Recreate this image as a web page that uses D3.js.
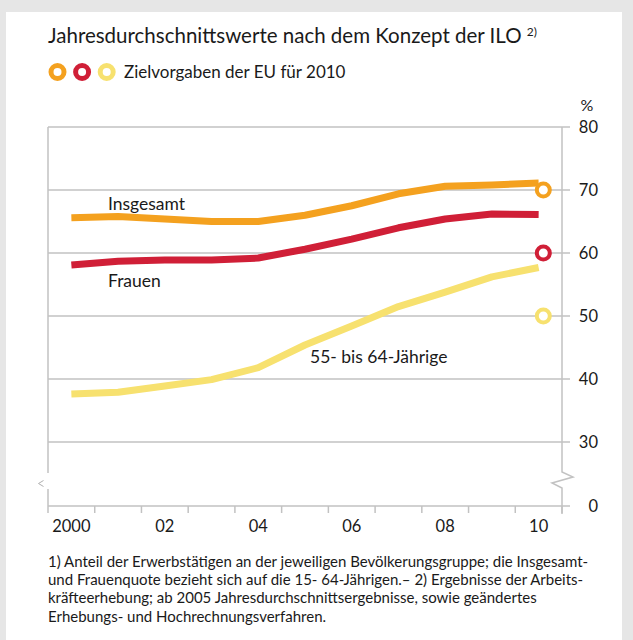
<!DOCTYPE html>
<html>
<head>
<meta charset="utf-8">
<script src="https://cdn.jsdelivr.net/npm/d3@7"></script>
<style>
  body { margin: 0; background: #e6e6e6; }
  svg { display: block; }
  text { font-family: Lato, "Open Sans", sans-serif; fill: #1a1a1a; }
</style>
</head>
<body>
<svg id="chart" width="633" height="640"></svg>
<script>
// Erwerbstätigenquoten 2000-2010 (%)
var years = [2000, 2001, 2002, 2003, 2004, 2005, 2006, 2007, 2008, 2009, 2010];
var insgesamt = [65.6, 65.8, 65.4, 65.0, 65.0, 66.0, 67.5, 69.4, 70.6, 70.8, 71.1];
var frauen = [58.1, 58.7, 58.9, 58.9, 59.2, 60.6, 62.2, 64.0, 65.4, 66.2, 66.1];
var aeltere = [37.6, 37.9, 38.9, 39.9, 41.8, 45.4, 48.4, 51.5, 53.8, 56.2, 57.7];
var seriesNames = ["Insgesamt", "Frauen", "55- bis 64-Jährige"];
var seriesColors = ["#f4a11f", "#d01f37", "#f7e16f"];
var zielvorgaben = [70, 60, 50];   // EU targets for 2010
var yTicks = [0, 30, 40, 50, 60, 70, 80];
var xTickYears = [2000, 2001, 2002, 2003, 2004, 2005, 2006, 2007, 2008, 2009, 2010, 2011];
var xLabelYears = [2000, 2002, 2004, 2006, 2008, 2010];
var xLabels = ["2000", "02", "04", "06", "08", "10"];
var footnotes = [
  "1) Anteil der Erwerbstätigen an der jeweiligen Bevölkerungsgruppe; die Insgesamt-",
  "und Frauenquote bezieht sich auf die 15- 64-Jährigen.– 2) Ergebnisse der Arbeits-",
  "kräfteerhebung; ab 2005 Jahresdurchschnittsergebnisse, sowie geändertes",
  "Erhebungs- und Hochrechnungsverfahren."
];

var svg = d3.select("#chart");
var grey = "#c2c2c2";

// white panel
svg.append("rect")
  .attr("x", 6).attr("y", 12)
  .attr("width", 616).attr("height", 640)
  .attr("fill", "#ffffff");

var x = d3.scaleLinear().domain([2000, 2011]).range([48, 562]);
// broken axis: 0 sits below the 30..80 band
var y = d3.scaleLinear().domain([0, 30, 80]).range([506, 442, 127]);

// title
var title = svg.append("text")
  .attr("x", 48).attr("y", 43)
  .style("font-size", "20.5px");
title.append("tspan").text("Jahresdurchschnittswerte nach dem Konzept der ILO ");
title.append("tspan").attr("dy", -7).style("font-size", "12px").text("2)");

// legend
svg.append("g").selectAll("circle")
  .data(seriesColors)
  .enter().append("circle")
  .attr("cx", function(d, i) { return 57.5 + i * 24.6; })
  .attr("cy", 72)
  .attr("r", 6.5)
  .attr("fill", "none")
  .attr("stroke", function(d) { return d; })
  .attr("stroke-width", 5);

svg.append("text")
  .attr("x", 124).attr("y", 78)
  .style("font-size", "17px")
  .text("Zielvorgaben der EU für 2010");

// grid lines
svg.append("g").selectAll("line")
  .data(yTicks)
  .enter().append("line")
  .attr("x1", x(2000)).attr("x2", x(2011) + 8)
  .attr("y1", function(d) { return y(d); })
  .attr("y2", function(d) { return y(d); })
  .attr("stroke", grey)
  .attr("stroke-width", 1.5);

// left axis with gap
svg.append("path")
  .attr("d", "M" + x(2000) + "," + y(80) + "V473M" + x(2000) + ",489V" + y(0))
  .attr("stroke", grey).attr("stroke-width", 1.5).attr("fill", "none");
svg.append("path")
  .attr("d", "M43.5,480.5L38.5,483.5L43.5,486.5")
  .attr("stroke", "#b0b0b0").attr("stroke-width", 1).attr("fill", "none");

// right axis with zigzag break
var xr = x(2011);
svg.append("path")
  .attr("d", "M" + xr + "," + y(80) + "V472L" + (xr + 11) + ",477L" + (xr - 10) + ",483L" + xr + ",488V" + (y(0) + 8))
  .attr("stroke", grey).attr("stroke-width", 1.5).attr("fill", "none");

// x ticks
svg.append("g").selectAll("line")
  .data(xTickYears)
  .enter().append("line")
  .attr("x1", function(d) { return x(d); })
  .attr("x2", function(d) { return x(d); })
  .attr("y1", y(0)).attr("y2", y(0) + 7)
  .attr("stroke", grey).attr("stroke-width", 1.5);

svg.append("g").selectAll("text")
  .data(xLabelYears)
  .enter().append("text")
  .attr("x", function(d) { return x(d + 0.5); })
  .attr("y", 532)
  .attr("text-anchor", "middle")
  .style("font-size", "16.5px")
  .text(function(d, i) { return xLabels[i]; });

// y tick labels
svg.append("g").selectAll("text")
  .data(yTicks)
  .enter().append("text")
  .attr("x", 598)
  .attr("y", function(d) { return y(d); })
  .attr("dy", "0.36em")
  .attr("text-anchor", "end")
  .style("font-size", "16.5px")
  .text(function(d) { return d; });

svg.append("text")
  .attr("x", 587).attr("y", 111)
  .attr("text-anchor", "middle")
  .style("font-size", "16px")
  .text("%");

// lines
var line = d3.line()
  .x(function(d, i) { return x(years[i] + 0.5); })
  .y(function(d) { return y(d); });

var allSeries = [insgesamt, frauen, aeltere];
svg.append("g").selectAll("path")
  .data(allSeries.slice().reverse())
  .enter().append("path")
  .attr("d", line)
  .attr("fill", "none")
  .attr("stroke", function(d, i) { return seriesColors[2 - i]; })
  .attr("stroke-width", 7)
  .attr("stroke-linejoin", "round");

// EU targets
svg.append("g").selectAll("circle")
  .data(zielvorgaben)
  .enter().append("circle")
  .attr("cx", x(2010.6))
  .attr("cy", function(d) { return y(d); })
  .attr("r", 6.5)
  .attr("fill", "#ffffff")
  .attr("stroke", function(d, i) { return seriesColors[i]; })
  .attr("stroke-width", 4);

// series labels
var labelPos = [[108, 210], [108, 287], [310, 363]];
svg.append("g").selectAll("text")
  .data(seriesNames)
  .enter().append("text")
  .attr("x", function(d, i) { return labelPos[i][0]; })
  .attr("y", function(d, i) { return labelPos[i][1]; })
  .style("font-size", "17.5px")
  .text(function(d) { return d; });

// footnotes
svg.append("g").selectAll("text")
  .data(footnotes)
  .enter().append("text")
  .attr("x", 48)
  .attr("y", function(d, i) { return 566.5 + i * 18.4; })
  .style("font-size", "15px")
  .text(function(d) { return d; });
</script>
</body>
</html>
